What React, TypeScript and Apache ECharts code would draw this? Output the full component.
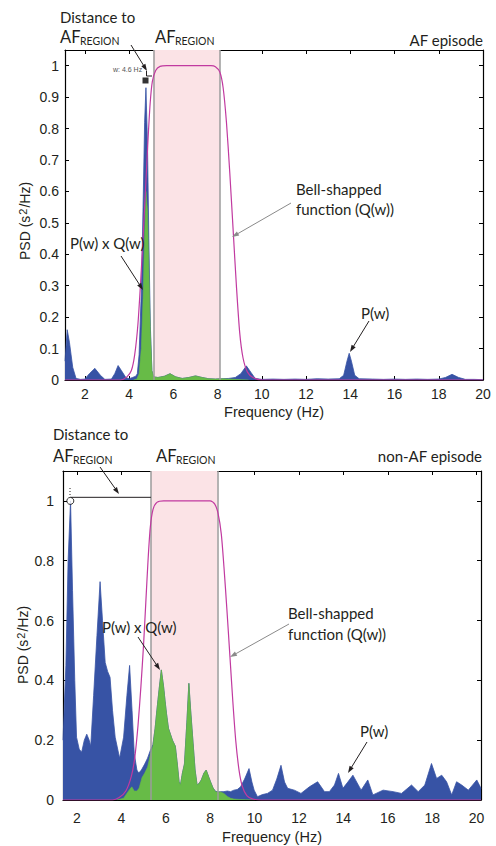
import React, { useEffect, useRef } from "react";
import * as echarts from "echarts";

// ---------- data ----------
const xTicks = [2, 4, 6, 8, 10, 12, 14, 16, 18, 20];
const yTicksTop = [0, 0.1, 0.2, 0.3, 0.4, 0.5, 0.6, 0.7, 0.8, 0.9, 1];
const yTicksBottom = [0, 0.2, 0.4, 0.6, 0.8, 1];

const afRegionTop = [5.1, 8.1];
const afRegionBottom = [5.33, 8.32];

// AF episode: spectrum P(w)
const pTop = [
  [1.1, 0.06], [1.2, 0.16], [1.3, 0.12], [1.45, 0.04], [1.6, 0.005], [1.8, 0.002], [2.0, 0.003],
  [2.2, 0.02], [2.45, 0.037], [2.7, 0.015], [2.9, 0.002], [3.2, 0.003], [3.35, 0.02], [3.5, 0.046],
  [3.65, 0.03], [3.85, 0.008], [4.0, 0.004], [4.15, 0.008], [4.3, 0.012], [4.37, 0.02], [4.45, 0.08],
  [4.55, 0.28], [4.63, 0.55], [4.7, 0.82], [4.76, 0.93], [4.83, 0.75], [4.89, 0.45], [4.96, 0.17],
  [5.03, 0.03], [5.1, 0.01], [5.3, 0.008], [5.6, 0.012], [5.85, 0.02], [6.1, 0.01], [6.4, 0.005],
  [6.7, 0.008], [7.0, 0.013], [7.3, 0.008], [7.6, 0.004], [7.9, 0.003], [8.2, 0.004], [8.5, 0.005],
  [8.8, 0.008], [9.05, 0.02], [9.3, 0.045], [9.5, 0.025], [9.7, 0.005], [10.0, 0.002], [10.5, 0.003],
  [11, 0.002], [11.5, 0.003], [12, 0.002], [12.5, 0.004], [13, 0.003], [13.5, 0.004], [13.7, 0.015],
  [13.85, 0.06], [13.95, 0.085], [14.05, 0.06], [14.2, 0.015], [14.4, 0.004], [15, 0.003],
  [15.5, 0.002], [16, 0.003], [16.5, 0.002], [17, 0.003], [17.5, 0.002], [18, 0.003], [18.3, 0.008],
  [18.6, 0.018], [18.9, 0.008], [19.2, 0.002], [19.6, 0.002], [20, 0.001],
];
// AF episode: P(w) x Q(w)
const pqTop = [
  [4.2, 0], [4.35, 0.003], [4.45, 0.02], [4.55, 0.1], [4.63, 0.26], [4.7, 0.46], [4.76, 0.6],
  [4.83, 0.54], [4.89, 0.36], [4.96, 0.15], [5.03, 0.03], [5.1, 0.01], [5.3, 0.008], [5.6, 0.012],
  [5.85, 0.02], [6.1, 0.01], [6.4, 0.005], [6.7, 0.008], [7.0, 0.013], [7.3, 0.008], [7.6, 0.004],
  [7.9, 0.003], [8.2, 0.004], [8.5, 0.003], [8.8, 0.002], [9.1, 0.001], [9.4, 0],
];
// AF episode: bell-shaped function Q(w)
const qTop = [
  [1.1, 0], [3.6, 0], [3.9, 0.01], [4.1, 0.03], [4.25, 0.08], [4.4, 0.18], [4.55, 0.35], [4.65, 0.48],
  [4.75, 0.62], [4.85, 0.76], [4.95, 0.88], [5.05, 0.95], [5.2, 0.985], [5.4, 0.998], [5.7, 1.0],
  [7.7, 1.0], [7.9, 0.997], [8.1, 0.98], [8.25, 0.93], [8.4, 0.82], [8.55, 0.66], [8.7, 0.48],
  [8.85, 0.3], [9.0, 0.15], [9.15, 0.07], [9.35, 0.025], [9.6, 0.008], [10, 0], [20, 0],
];
const peakTop = [[4.74, 0.953]];

// non-AF episode: spectrum P(w)
const pBottom = [
  [1.37, 0.2], [1.5, 0.45], [1.6, 0.8], [1.71, 1.0], [1.8, 0.7], [1.9, 0.4], [1.98, 0.21], [2.1, 0.17],
  [2.21, 0.16], [2.33, 0.2], [2.44, 0.22], [2.55, 0.2], [2.62, 0.18], [2.75, 0.35], [2.9, 0.55],
  [3.04, 0.73], [3.15, 0.6], [3.27, 0.46], [3.38, 0.43], [3.49, 0.41], [3.6, 0.3], [3.72, 0.21],
  [3.92, 0.14], [4.1, 0.21], [4.25, 0.35], [4.37, 0.45], [4.48, 0.3], [4.58, 0.155], [4.7, 0.1],
  [4.78, 0.09], [4.9, 0.1], [5.05, 0.12], [5.18, 0.14], [5.3, 0.165], [5.42, 0.185], [5.52, 0.24],
  [5.6, 0.3], [5.7, 0.37], [5.8, 0.435], [5.9, 0.38], [5.97, 0.33], [6.03, 0.29], [6.12, 0.24],
  [6.21, 0.22], [6.3, 0.2], [6.43, 0.18], [6.52, 0.12], [6.6, 0.06], [6.66, 0.05], [6.75, 0.09],
  [6.84, 0.12], [6.95, 0.26], [7.04, 0.39], [7.12, 0.3], [7.23, 0.19], [7.32, 0.1], [7.41, 0.05],
  [7.5, 0.055], [7.6, 0.067], [7.72, 0.09], [7.82, 0.1], [7.92, 0.08], [8.02, 0.06], [8.13, 0.04],
  [8.24, 0.029], [8.35, 0.027], [8.47, 0.028], [8.62, 0.028], [8.77, 0.03], [8.92, 0.028],
  [9.07, 0.033], [9.22, 0.035], [9.37, 0.044], [9.55, 0.07], [9.75, 0.105], [9.88, 0.06],
  [9.98, 0.033], [10.13, 0.011], [10.35, 0.018], [10.58, 0.022], [10.81, 0.033], [11.0, 0.07],
  [11.19, 0.116], [11.35, 0.06], [11.49, 0.039], [11.79, 0.033], [12.09, 0.022], [12.47, 0.044],
  [12.84, 0.061], [13.15, 0.028], [13.37, 0.028], [13.6, 0.05], [13.78, 0.089], [13.98, 0.039],
  [14.2, 0.06], [14.43, 0.083], [14.8, 0.033], [15.1, 0.067], [15.33, 0.017], [15.79, 0.033],
  [16.24, 0.028], [16.62, 0.022], [17.07, 0.05], [17.37, 0.028], [17.67, 0.05], [17.97, 0.122],
  [18.2, 0.072], [18.43, 0.083], [18.65, 0.061], [18.88, 0.017], [19.1, 0.061], [19.33, 0.05],
  [19.63, 0.033], [20.01, 0.067], [20.2, 0.039],
];
// non-AF episode: P(w) x Q(w)
const pqBottom = [
  [3.8, 0], [4.1, 0.006], [4.37, 0.035], [4.47, 0.044], [4.58, 0.03], [4.7, 0.03], [4.8, 0.04],
  [4.93, 0.075], [5.05, 0.09], [5.18, 0.11], [5.3, 0.15], [5.42, 0.18], [5.52, 0.24], [5.6, 0.3],
  [5.7, 0.37], [5.8, 0.435], [5.9, 0.38], [5.97, 0.33], [6.03, 0.29], [6.12, 0.24], [6.21, 0.22],
  [6.3, 0.2], [6.43, 0.18], [6.52, 0.12], [6.6, 0.06], [6.66, 0.05], [6.75, 0.09], [6.84, 0.12],
  [6.95, 0.26], [7.04, 0.39], [7.12, 0.3], [7.23, 0.19], [7.32, 0.1], [7.41, 0.05], [7.5, 0.055],
  [7.6, 0.067], [7.72, 0.09], [7.82, 0.1], [7.92, 0.08], [8.02, 0.06], [8.13, 0.04], [8.24, 0.028],
  [8.35, 0.026], [8.47, 0.027], [8.62, 0.022], [8.77, 0.012], [8.92, 0.006], [9.07, 0.003],
  [9.3, 0.002], [9.6, 0.001], [10, 0],
];
// non-AF episode: bell-shaped function Q(w)
const qBottom = [
  [1.37, 0], [3.6, 0], [3.9, 0.008], [4.2, 0.03], [4.45, 0.08], [4.6, 0.14], [4.75, 0.25], [4.88, 0.38],
  [5.0, 0.52], [5.1, 0.66], [5.2, 0.8], [5.3, 0.91], [5.42, 0.97], [5.6, 0.995], [5.9, 1], [8.0, 1],
  [8.2, 0.99], [8.35, 0.96], [8.5, 0.89], [8.62, 0.78], [8.75, 0.64], [8.89, 0.48], [9.02, 0.33],
  [9.15, 0.2], [9.3, 0.1], [9.45, 0.045], [9.65, 0.015], [9.9, 0.004], [10.3, 0], [20.2, 0],
];
const peakBottom = [[1.7, 1.0]];
const distanceBottom = [[1.7, 1.012], [5.33, 1.012]];

// ---------- styles ----------
const BLUE = "#3753a5";
const GREEN = "#67bb47";
const PINK = "#fbe3e6";
const GRAY = "#9b9b9b";
const MAGENTA = "#c13aa0";
const INK = "#231f20";
const TICK_FONT = "Liberation Sans";
const NOTE_FONT = "Lato";

function arrow(x1: number, y1: number, x2: number, y2: number, color: string) {
  const head = 7;
  const ang = Math.atan2(y2 - y1, x2 - x1);
  const hx = x2 - head * Math.cos(ang);
  const hy = y2 - head * Math.sin(ang);
  const w = 2.4;
  const px = -Math.sin(ang) * w;
  const py = Math.cos(ang) * w;
  return [
    { type: "line", z: 100, shape: { x1, y1, x2: hx, y2: hy }, style: { stroke: color, lineWidth: 1 }, silent: true },
    {
      type: "polygon",
      z: 100,
      shape: { points: [[x2, y2], [hx + px, hy + py], [hx - px, hy - py]] },
      style: { fill: color },
      silent: true,
    },
  ];
}

function note(text: string, x: number, y: number, size = 15, align = "left", fill = INK, font = NOTE_FONT) {
  return {
    type: "text",
    x,
    y,
    z: 100,
    silent: true,
    style: { text, fontSize: size, fontFamily: font, fill, align, verticalAlign: "middle" },
  };
}

function psdLabel(x: number, y: number) {
  return {
    type: "text",
    x,
    y,
    rotation: Math.PI / 2,
    z: 100,
    silent: true,
    style: {
      text: "{t|PSD (s}{s|2}{t|/Hz)}",
      align: "center",
      verticalAlign: "middle",
      fill: INK,
      rich: {
        t: { fontFamily: TICK_FONT, fontSize: 14, fill: INK },
        s: { fontFamily: TICK_FONT, fontSize: 11, fill: INK, verticalAlign: "top", padding: [0, 1, 4, 1] },
      },
    },
  };
}

function afRegionLabel(x: number, y: number) {
  return [note("AF", x, y, 16.5), note("REGION", x + 20, y + 4, 10.5)];
}

function xAxes(grid: number, min: number, max: number, labelMargin: number, nameGap: number) {
  const common = {
    type: "value",
    gridIndex: grid,
    min,
    max,
    splitLine: { show: false },
    axisLine: { show: true, onZero: false, lineStyle: { color: "#000", width: 1.2 } },
    axisTick: { show: true, inside: true, length: 4, customValues: xTicks, lineStyle: { color: "#000" } },
  };
  return [
    {
      ...common,
      position: "bottom",
      name: "Frequency (Hz)",
      nameLocation: "middle",
      nameGap,
      nameMoveOverlap: false,
      nameTextStyle: { fontFamily: TICK_FONT, fontSize: 14.5, color: INK },
      axisLabel: { customValues: xTicks, fontFamily: TICK_FONT, fontSize: 14, color: INK, margin: labelMargin },
    },
    { ...common, position: "top", axisLabel: { show: false } },
  ];
}

function yAxes(grid: number, max: number, ticks: number[], labelMargin: number) {
  const common = {
    type: "value",
    gridIndex: grid,
    min: 0,
    max,
    splitLine: { show: false },
    axisLine: { show: true, onZero: false, lineStyle: { color: "#000", width: 1.2 } },
    axisTick: { show: true, inside: true, length: 4, customValues: ticks, lineStyle: { color: "#000" } },
  };
  return [
    {
      ...common,
      position: "left",
      axisLabel: { customValues: ticks, fontFamily: TICK_FONT, fontSize: 14, color: INK, margin: labelMargin },
    },
    { ...common, position: "right", axisLabel: { show: false } },
  ];
}

function panelSeries(
  xi: number,
  region: number[],
  p: number[][],
  pq: number[][],
  q: number[][],
) {
  return [
    {
      type: "line",
      xAxisIndex: xi,
      yAxisIndex: xi,
      data: [[region[0], 0]],
      symbol: "none",
      lineStyle: { opacity: 0 },
      silent: true,
      z: 1,
      markArea: {
        silent: true,
        itemStyle: { color: PINK, borderWidth: 0 },
        data: [[{ xAxis: region[0] }, { xAxis: region[1] }]],
      },
    },
    {
      type: "line",
      name: "P(w)",
      xAxisIndex: xi,
      yAxisIndex: xi,
      data: p,
      symbol: "none",
      lineStyle: { color: BLUE, width: 0.8 },
      areaStyle: { color: BLUE, opacity: 1 },
      z: 2,
    },
    {
      type: "line",
      name: "P(w) x Q(w)",
      xAxisIndex: xi,
      yAxisIndex: xi,
      data: pq,
      symbol: "none",
      lineStyle: { color: GREEN, width: 0.6 },
      areaStyle: { color: GREEN, opacity: 1 },
      z: 3,
      markLine: {
        silent: true,
        symbol: "none",
        label: { show: false },
        lineStyle: { color: GRAY, width: 1.5, type: "solid" },
        data: [{ xAxis: region[0] }, { xAxis: region[1] }],
      },
    },
    {
      type: "line",
      name: "Q(w)",
      xAxisIndex: xi,
      yAxisIndex: xi,
      data: q,
      symbol: "none",
      smooth: 0.25,
      lineStyle: { color: MAGENTA, width: 1.2 },
      z: 5,
    },
  ];
}

export default function App() {
  const ref = useRef<HTMLDivElement>(null);
  useEffect(() => {
    if (!ref.current) return;
    const chart = echarts.init(ref.current, null, { renderer: "svg" });
    const graphic: any[] = [
      psdLabel(25, 221),
      psdLabel(23, 645),
      // top panel annotations
      note("Distance to", 60, 17),
      ...afRegionLabel(60, 37),
      ...afRegionLabel(155, 37),
      note("AF episode", 483, 40, 15, "right"),
      note("w: 4.6 Hz", 113, 69, 7, "left", "#555", TICK_FONT),
      ...arrow(131, 45, 147, 71, INK),
      { type: "polyline", z: 100, shape: { points: [[146.5, 71], [146.5, 76], [152, 76]] }, style: { stroke: INK, lineWidth: 1, fill: null }, silent: true },
      note("P(w) x Q(w)", 70, 243),
      ...arrow(121, 256, 143, 290, INK),
      note("Bell-shapped", 296, 189),
      note("function (Q(w))", 296, 209),
      ...arrow(291, 203, 232, 237, "#8a8a8a"),
      note("P(w)", 361, 313),
      ...arrow(369, 321, 350, 352, INK),
      // bottom panel annotations
      note("Distance to", 53, 434),
      ...afRegionLabel(53, 456),
      ...afRegionLabel(156, 456),
      note("non-AF episode", 482, 456, 15, "right"),
      ...arrow(100, 467, 119, 494, INK),
      { type: "line", z: 100, shape: { x1: 70, y1: 488, x2: 70, y2: 495 }, style: { stroke: INK, lineWidth: 1, lineDash: [1, 2] }, silent: true },
      note("P(w) x Q(w)", 102, 627),
      ...arrow(138, 637, 160, 670, INK),
      note("Bell-shapped", 288, 613),
      note("function (Q(w))", 288, 634),
      ...arrow(289, 624, 230, 657, "#8a8a8a"),
      note("P(w)", 360, 731),
      ...arrow(367, 742, 348, 773, INK),
    ];

    chart.setOption({
      animation: false,
      backgroundColor: "#fff",
      grid: [
        { left: 65, top: 50, width: 418, height: 330 },
        { left: 63, top: 471, width: 418, height: 329 },
      ],
      xAxis: [...xAxes(0, 1.1, 20, 7, 24), ...xAxes(1, 1.37, 20.2, 11, 29)],
      yAxis: [...yAxes(0, 1.05, yTicksTop, 6), ...yAxes(1, 1.1, yTicksBottom, 9)],
      series: [
        ...panelSeries(0, afRegionTop, pTop, pqTop, qTop),
        {
          type: "scatter",
          xAxisIndex: 0,
          yAxisIndex: 0,
          data: peakTop,
          symbol: "rect",
          symbolSize: 6,
          itemStyle: { color: "#000" },
          z: 6,
        },
        ...panelSeries(2, afRegionBottom, pBottom, pqBottom, qBottom),
        {
          type: "line",
          xAxisIndex: 2,
          yAxisIndex: 2,
          data: distanceBottom,
          symbol: "none",
          lineStyle: { color: INK, width: 1 },
          z: 6,
        },
        {
          type: "scatter",
          xAxisIndex: 2,
          yAxisIndex: 2,
          data: peakBottom,
          symbol: "circle",
          symbolSize: 7,
          itemStyle: { color: "#fff", borderColor: "#000", borderWidth: 1 },
          z: 7,
        },
      ],
      graphic,
    });
    return () => chart.dispose();
  }, []);
  return (
    <div
      ref={ref}
      style={{ position: "absolute", left: 0, top: 0, width: 496, height: 846, background: "#fff" }}
    />
  );
}
